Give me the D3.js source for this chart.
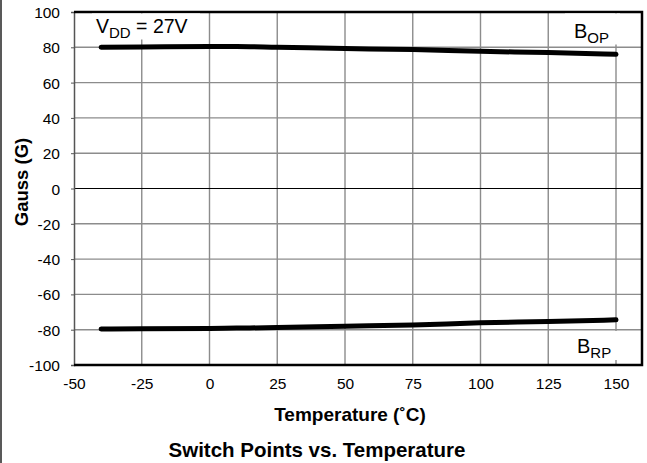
<!DOCTYPE html>
<html><head><meta charset="utf-8">
<script src="https://cdn.jsdelivr.net/npm/d3@7"></script>
<style>body{margin:0;background:#fff}svg{display:block}text{font-family:"Liberation Sans",Arial,sans-serif}</style>
</head><body>
<svg id="c" width="647" height="463"></svg>
<script>
const temps = [-40, -25, 0, 10, 25, 50, 75, 100, 125, 150];
const bop   = [80.0, 80.2, 80.4, 80.4, 80.0, 79.3, 78.7, 77.7, 77.0, 76.0];
const brp   = [-79.6, -79.5, -79.3, -79.1, -78.8, -78.0, -77.3, -76.1, -75.4, -74.4];
const xTicks = [-50, -25, 0, 25, 50, 75, 100, 125, 150];
const yTicks = [-100, -80, -60, -40, -20, 0, 20, 40, 60, 80, 100];

const svg = d3.select("#c");
const L = 74, R = 642, T = 12, B = 365;
const x = d3.scaleLinear().domain([-50, 150]).range([L, 616]);
const y = d3.scaleLinear().domain([-100, 100]).range([B, T]);

// left frame line
svg.append("line").attr("x1",1).attr("x2",1).attr("y1",0).attr("y2",463).attr("stroke","#222").attr("stroke-width",1.5);

// gridlines
const g = svg.append("g");
g.selectAll(".vg").data(xTicks.slice(1)).join("line")
  .attr("x1",d=>x(d)).attr("x2",d=>x(d)).attr("y1",T).attr("y2",B)
  .attr("stroke","#8c8c8c").attr("stroke-width",1.4);
g.selectAll(".hg").data(yTicks.filter(d=>d>-100&&d<100)).join("line")
  .attr("x1",L).attr("x2",R).attr("y1",d=>y(d)).attr("y2",d=>y(d))
  .attr("stroke",d=>d===0?"#000":"#8c8c8c").attr("stroke-width",d=>d===0?1.2:1.4);

// axes with ticks
const ya = d3.axisLeft(y).tickValues(yTicks).tickSize(3).tickFormat(d=>String(d));
const yg = svg.append("g").attr("transform",`translate(${L},0)`).call(ya);
yg.select(".domain").attr("stroke","#555").attr("stroke-width",1.5);
yg.selectAll(".tick line").attr("stroke","#555");
yg.selectAll("text").attr("font-size",15.5).attr("x",-14).attr("dy","0.36em").attr("fill","#000");

const xa = d3.axisBottom(x).tickValues(xTicks).tickSize(0).tickFormat(d=>String(d));
const xg = svg.append("g").attr("transform",`translate(0,${B})`).call(xa);
xg.select(".domain").remove();
xg.selectAll("text").attr("font-size",15.5).attr("y",13).attr("fill","#000");

// plot border
svg.append("path").attr("d",`M${L},${T}H${R}V${B}H${L}`).attr("fill","none").attr("stroke","#000").attr("stroke-width",2.5);

// label boxes
function label(bx, by, bw, bh, tx, ty, main, sub, rest, size, subSize, dy) {
  svg.append("rect").attr("x",bx).attr("y",by).attr("width",bw).attr("height",bh).attr("fill","#fff");
  const t = svg.append("text").attr("x",tx).attr("y",ty).attr("font-size",size);
  t.append("tspan").text(main);
  t.append("tspan").attr("font-size",subSize).attr("dy",dy).text(sub);
  if (rest) t.append("tspan").attr("dy",-dy).text(rest);
}
label(92, 13.5, 108, 26, 96, 33, "V", "DD", " = 27V", 19.5, 15, 4.5);
label(565, 13.5, 55, 31, 574, 38, "B", "OP", null, 20, 15, 4.5);
label(563, 331, 65, 29, 577, 353, "B", "RP", null, 20, 15, 4.5);

// curves
const line = d3.line().x((d,i)=>x(temps[i])).y(d=>y(d)).curve(d3.curveMonotoneX);
[bop, brp].forEach(s=>{
  svg.append("path").datum(s).attr("d",line).attr("fill","none").attr("stroke","#000")
    .attr("stroke-width",5).attr("stroke-linecap","round").attr("stroke-linejoin","round");
});

// titles
svg.append("text").attr("transform","translate(28,182) rotate(-90)").attr("text-anchor","middle")
  .attr("font-size",18.5).attr("font-weight","bold").text("Gauss (G)");
svg.append("text").attr("x",350).attr("y",421).attr("text-anchor","middle")
  .attr("font-size",19).attr("font-weight","bold").text("Temperature (˚C)");
svg.append("text").attr("x",317).attr("y",457).attr("text-anchor","middle")
  .attr("font-size",20.5).attr("font-weight","bold").text("Switch Points vs. Temperature");
</script>
</body></html>
